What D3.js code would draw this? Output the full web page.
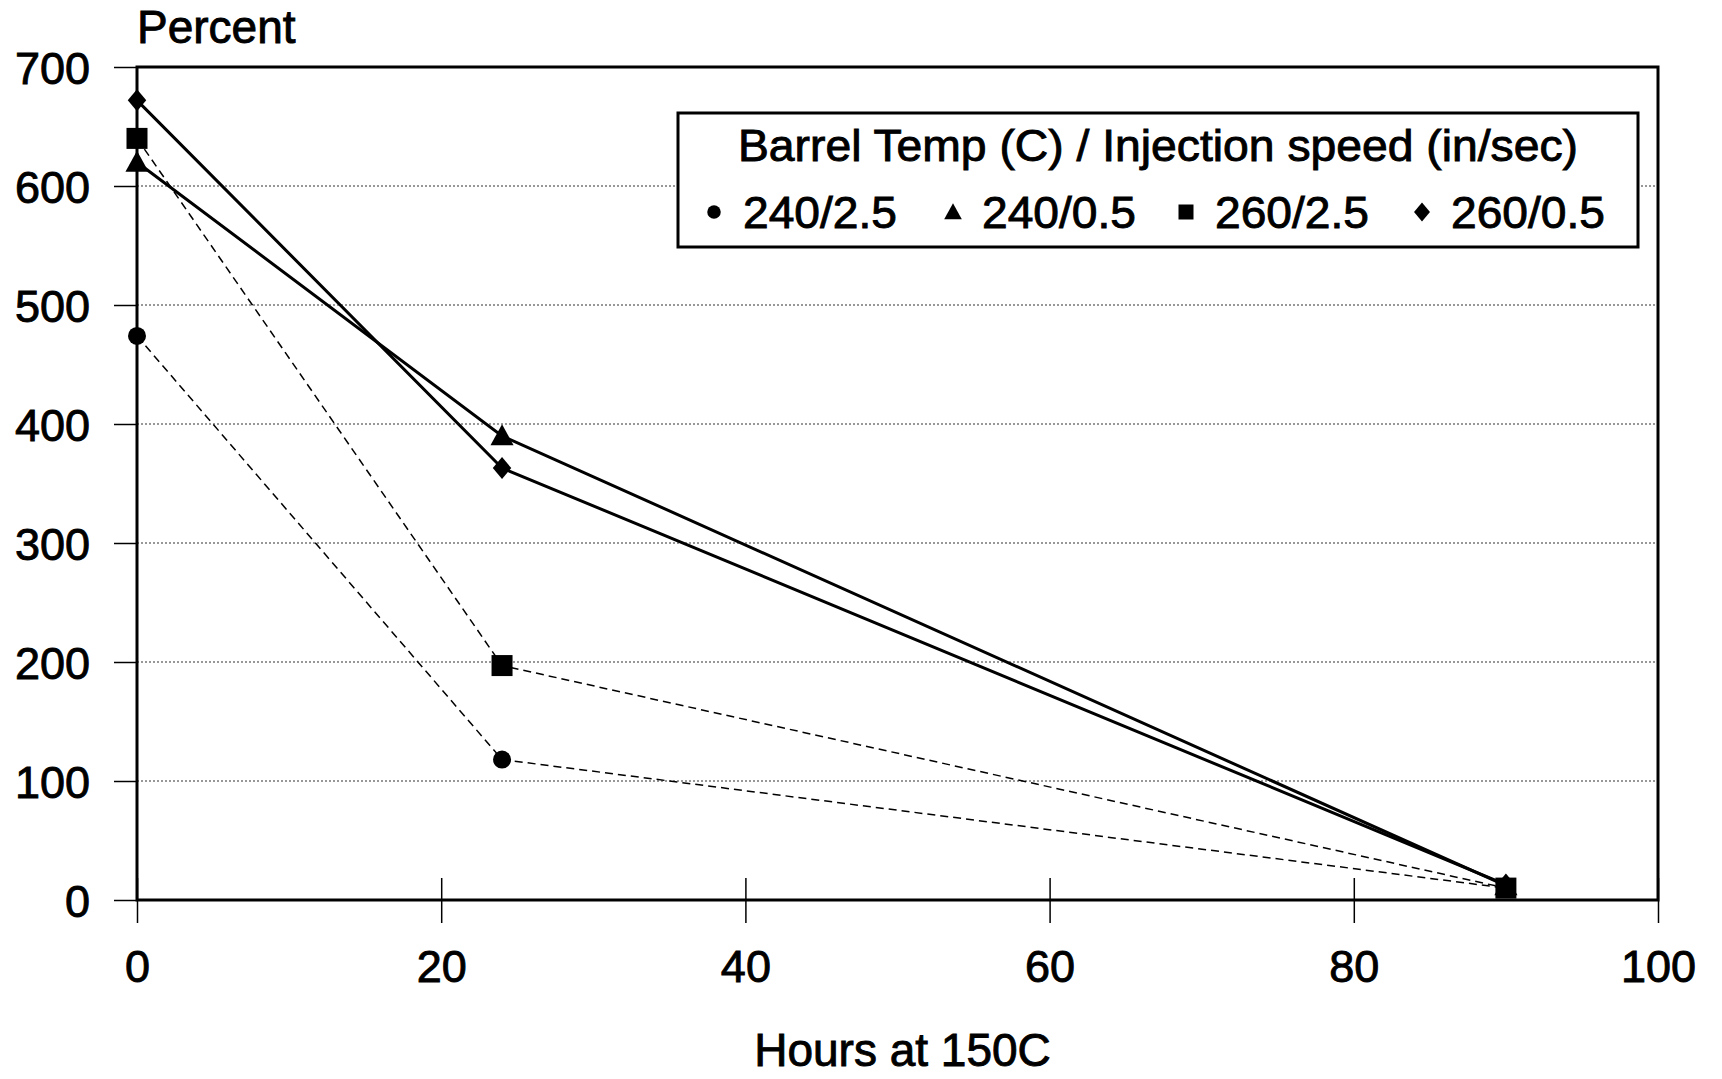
<!DOCTYPE html>
<html><head><meta charset="utf-8">
<script src="https://cdn.jsdelivr.net/npm/d3@7"></script>
<style>body{margin:0;background:#fff;} text{font-family:"Liberation Sans",Arial,sans-serif;fill:#000;stroke:#000;stroke-width:0.9px;}</style>
</head><body>
<svg id="c" width="1722" height="1079"></svg>
<script>
const hours = [0, 24, 90];
const seriesNames = ["240/2.5", "240/0.5", "260/2.5", "260/0.5"];
const s240_25 = [474, 118, 10];
const s240_05 = [620, 390, 12];
const s260_25 = [640, 197, 10];
const s260_05 = [672, 363, 13];
const xTicks = [0, 20, 40, 60, 80, 100];
const yTicks = [0, 100, 200, 300, 400, 500, 600, 700];
const legendTitle = "Barrel Temp (C) / Injection speed (in/sec)";
const yTitle = "Percent";
const xTitle = "Hours at 150C";

const series = [
  {name: seriesNames[0], values: s240_25, shape: "circle", dashed: true},
  {name: seriesNames[1], values: s240_05, shape: "triangle", dashed: false},
  {name: seriesNames[2], values: s260_25, shape: "square", dashed: true},
  {name: seriesNames[3], values: s260_05, shape: "diamond", dashed: false}
];

const svg = d3.select("#c");
const L = 137, R = 1658, T = 67, B = 900;
const x = d3.scaleLinear().domain([0, 100]).range([L, R]);
const y = d3.scaleLinear().domain([0, 700]).range([B, T]);

// gridlines
svg.append("g").selectAll("line").data(yTicks.filter(d => d > 0 && d < 700)).join("line")
  .attr("x1", L).attr("x2", R).attr("y1", d => y(d)).attr("y2", d => y(d))
  .attr("stroke", "#777").attr("stroke-width", 1.5).attr("stroke-dasharray", "2,2");

// y axis
const yAxis = d3.axisLeft(y).tickValues(yTicks).tickSize(23).tickPadding(24).tickFormat(d3.format("d"));
const gy = svg.append("g").attr("transform", `translate(${L},0)`).call(yAxis);
gy.select(".domain").remove();
gy.selectAll(".tick line").attr("stroke", "#000").attr("stroke-width", 1.5);
gy.selectAll(".tick text").attr("font-size", 45).attr("dy", "0.36em").attr("x", -47);

// x axis
const gx = svg.append("g").attr("transform", `translate(0,${B})`).call(d3.axisBottom(x).tickValues(xTicks).tickSize(23).tickPadding(27).tickFormat(d3.format("d")));
gx.select(".domain").remove();
gx.selectAll(".tick line").attr("y1", -22).attr("stroke", "#000").attr("stroke-width", 1.5);
gx.selectAll(".tick text").attr("font-size", 45).attr("dy", "0.71em");

// plot frame
svg.append("rect").attr("x", L).attr("y", T).attr("width", R - L).attr("height", B - T)
  .attr("fill", "none").attr("stroke", "#000").attr("stroke-width", 3);

// titles
svg.append("text").attr("x", 137).attr("y", 43).attr("font-size", 46).text(yTitle);
svg.append("text").attr("x", (L + R) / 2 + 5).attr("y", 1066).attr("text-anchor", "middle").attr("font-size", 46).text(xTitle);

// lines
const line = d3.line().x((d, i) => x(hours[i])).y(d => y(d));
svg.append("g").selectAll("path").data(series).join("path")
  .attr("d", d => line(d.values))
  .attr("fill", "none").attr("stroke", "#000")
  .attr("stroke-width", d => d.dashed ? 1.5 : 3)
  .attr("stroke-dasharray", d => d.dashed ? "8,5" : null);

function marker(g, shape, s) {
  if (shape === "circle") g.append("circle").attr("r", s * 0.45);
  else if (shape === "square") g.append("rect").attr("x", -s / 2).attr("y", -s / 2).attr("width", s).attr("height", s);
  else if (shape === "triangle") g.append("path").attr("d", `M0,${-s*0.55}L${s*0.55},${s*0.45}L${-s*0.55},${s*0.45}Z`);
  else if (shape === "diamond") g.append("path").attr("d", `M0,${-s*0.5}L${s*0.42},0L0,${s*0.5}L${-s*0.42},0Z`);
  g.attr("fill", "#000");
}
const markSize = {circle: 20, square: 21, triangle: 21, diamond: 22};
series.forEach(sr => {
  sr.values.forEach((v, i) => {
    const g = svg.append("g").attr("transform", `translate(${x(hours[i])},${y(v)})`);
    marker(g, sr.shape, markSize[sr.shape]);
  });
});

// legend
const lg = svg.append("g");
lg.append("rect").attr("x", 678).attr("y", 113).attr("width", 960).attr("height", 134)
  .attr("fill", "#fff").attr("stroke", "#000").attr("stroke-width", 3);
lg.append("text").attr("x", 1158).attr("y", 161).attr("text-anchor", "middle").attr("font-size", 44)
  .attr("textLength", 840).attr("lengthAdjust", "spacingAndGlyphs").text(legendTitle);
const legX = [714, 953, 1186, 1422];
const legSize = {circle: 15, square: 15, triangle: 16, diamond: 19};
series.forEach((sr, i) => {
  const g = lg.append("g").attr("transform", `translate(${legX[i]},212)`);
  marker(g, sr.shape, legSize[sr.shape]);
  lg.append("text").attr("x", legX[i] + 29).attr("y", 228).attr("font-size", 44)
    .attr("textLength", 154).attr("lengthAdjust", "spacingAndGlyphs").text(sr.name);
});
</script>
</body></html>
